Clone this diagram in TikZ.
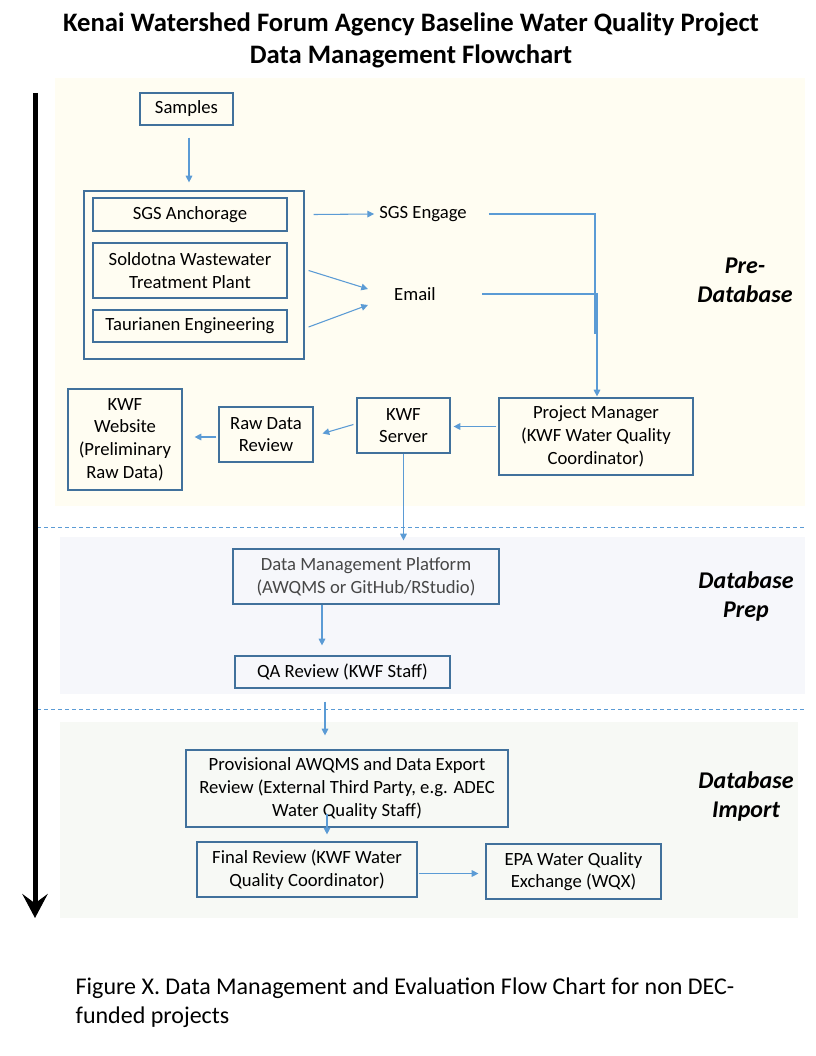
\documentclass[tikz,border=0pt]{standalone}
\usepackage{fontspec}
\setmainfont{Carlito}
\usetikzlibrary{arrows.meta,calc}
\definecolor{boxblue}{HTML}{41719C}
\definecolor{arrblue}{HTML}{5B9BD5}
\definecolor{prebg}{HTML}{FFFDF2}
\definecolor{prepbg}{HTML}{F6F7FB}
\definecolor{impbg}{HTML}{F7F9F5}
\begin{document}
\begin{tikzpicture}[x=0.75pt,y=-0.75pt,
  box/.style={draw=boxblue, line width=0.9pt, align=center, inner sep=0pt, font=\fontsize{14}{17}\selectfont},
  plain/.style={align=center, inner sep=0pt, font=\fontsize{14}{17}\selectfont},
  arr/.style={draw=arrblue, line width=0.8pt, -{Triangle[length=5pt,width=5pt]}},
  ln/.style={draw=arrblue, line width=0.8pt},
  sep/.style={draw=arrblue, line width=0.75pt, dash pattern=on 3pt off 2.25pt},
  phase/.style={align=center, inner sep=0pt, font=\fontsize{18}{21.75}\selectfont\bfseries\itshape},
]
\useasboundingbox (0,0) rectangle (816,1056);
% backgrounds
\fill[prebg] (55,78) rectangle (805,506);
\fill[prepbg] (60,537) rectangle (805,694);
\fill[impbg] (60,722) rectangle (798,918);
\draw[sep] (37,527) -- (805,527);
\draw[sep] (37,709) -- (805,709);
% title
\node[align=center, font=\fontsize{20}{24}\selectfont\bfseries] (title) at (411,40)
  {Kenai Watershed Forum Agency Baseline Water Quality Project\\Data Management Flowchart};
% main timeline arrow
\coordinate (tl0) at (35,93);
\coordinate (tl1) at (35,918);
\draw[line width=3.75pt, -{Stealth[length=18pt,width=19pt,inset=7pt]}] (tl0) -- (tl1);
% nodes
\node[box, minimum width=69.75pt, minimum height=24pt] (samples) at (186.5,109) {Samples};
\node[draw=boxblue, line width=0.9pt, minimum width=165pt, minimum height=126pt, inner sep=0pt] (group) at (194,275) {};
\node[box, minimum width=145.5pt, minimum height=24.75pt] (sgsa) at (190,214.5) {SGS Anchorage};
\node[box, minimum width=145.5pt, minimum height=41.25pt] (sold) at (190,270.5) {Soldotna Wastewater\\Treatment Plant};
\node[box, minimum width=145.5pt, minimum height=24pt] (taur) at (190,326) {Taurianen Engineering};
\node[plain] (sgse) at (423,214) {SGS Engage};
\node[plain] (email) at (415,294) {Email};
\node[box, minimum width=145.5pt, minimum height=57.75pt] (pm) at (596,436.5) {Project Manager\\(KWF Water Quality\\Coordinator)};
\node[box, minimum width=69.75pt, minimum height=41.25pt] (server) at (403.5,425.5) {KWF\\Server};
\node[box, minimum width=70.5pt, minimum height=41.25pt] (raw) at (266,434.5) {Raw Data\\Review};
\node[box, minimum width=85.5pt, minimum height=75.75pt] (web) at (125,439.5) {KWF\\Website\\(Preliminary\\Raw Data)};
\node[box, text=black!72, minimum width=199.5pt, minimum height=41.25pt] (dmp) at (366,576.5) {Data Management Platform\\(AWQMS or GitHub/RStudio)};
\node[box, minimum width=161.25pt, minimum height=24pt] (qa) at (342.5,672) {QA Review (KWF Staff)};
\node[box, minimum width=241.5pt, minimum height=57.75pt] (prov) at (347,788.5) {Provisional AWQMS and Data Export\\Review (External Third Party, e.g. ADEC\\Water Quality Staff)};
\node[box, minimum width=165pt, minimum height=41.25pt] (final) at (307,869.5) {Final Review (KWF Water\\Quality Coordinator)};
\node[box, minimum width=131.25pt, minimum height=41.25pt] (epa) at (573.5,871.5) {EPA Water Quality\\Exchange (WQX)};
% phase labels
\node[phase] (lpre) at (745,280) {Pre-\\Database};
\node[phase] (lprep) at (746,596) {Database\\Prep};
\node[phase] (limp) at (746,796) {Database\\Import};
% caption
\node[align=left, anchor=west, font=\fontsize{18}{21.75}\selectfont] (cap) at (71,1003)
  {Figure X. Data Management and Evaluation Flow Chart for non DEC-\\funded projects};
% connectors
\draw[arr] ($(samples.south)+(2.5,12)$) -- ($(samples.south |- group.north)+(2.5,-8)$);
\draw[arr] ($(group.east |- sgsa)+(9,0)$) -- ($(sgse.west)+(-5,0)$);
\draw[arr] ($(group.east |- sold)+(4,0)$) -- ($(email.west)+(-26,-5)$);
\draw[arr] ($(group.east |- taur)+(4,1)$) -- ($(email.west)+(-26,11)$);
\coordinate (sgsend) at (595,334);
\draw[ln] ($(sgse.east)+(22,0)$) -- (sgse.east -| sgsend) -- (sgsend);
\draw[arr] ($(email.east)+(46,0)$) -- ($(email.east -| pm.north)+(1,0)$) -- ($(pm.north)+(1,-1)$);
\draw[arr] ($(pm.west)+(-2,-10)$) -- ($(server.east |- pm.west)+(3,-10)$);
\draw[arr] ($(server.west)+(-3,-1)$) -- ($(raw.east)+(9,-1)$);
\draw[arr] ($(raw.west)+(-2,2.5)$) -- ($(web.east)+(12,-2.5)$);
\draw[arr] (server.south) -- ($(dmp.north -| server.south)+(0,-8)$);
\draw[arr] ($(dmp.south)+(-44,0)$) -- ($(qa.north -| dmp.south)+(-44,-10)$);
\draw[arr] ($(qa.south)+(-17.5,13)$) -- ($(prov.north -| qa.south)+(-17.5,-14)$);
\draw[arr] ($(prov.south)+(-20,-14)$) -- ($(final.north -| prov.south)+(-20,-7)$);
\draw[arr] ($(final.east)+(1,4)$) -- ($(epa.west)+(-7,2)$);
\end{tikzpicture}
\end{document}
